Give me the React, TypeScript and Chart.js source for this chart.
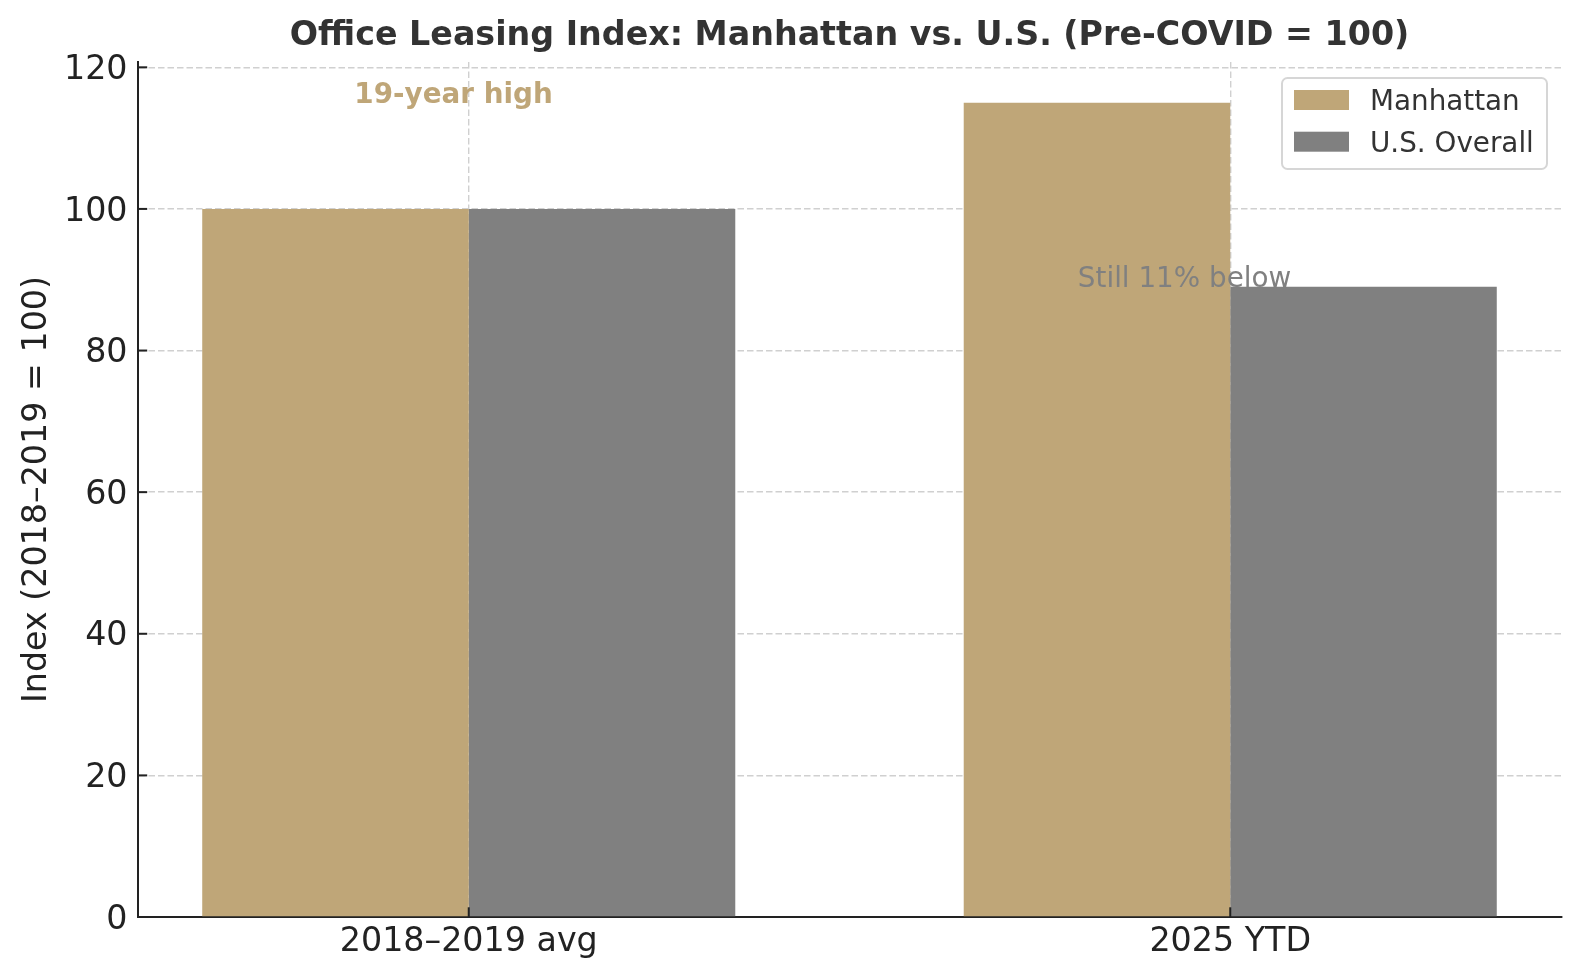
import React, { useEffect, useRef } from 'react';
import { Chart, registerables } from 'chart.js';

Chart.register(...registerables);

const categories = ['2018–2019 avg', '2025 YTD'];
const categoryPositions = [0, 1];
const manhattanValues = [100, 115];
const usOverallValues = [100, 89];
const seriesNames = ['Manhattan', 'U.S. Overall'];
const seriesColors = ['#bfa678', '#808080'];
const yTickValues = [0, 20, 40, 60, 80, 100, 120];
const chartTitle = 'Office Leasing Index: Manhattan vs. U.S. (Pre-COVID = 100)';
const yAxisTitle = 'Index (2018–2019 = 100)';
const annotationTexts = ['19-year high', 'Still 11% below'];
const annotationX = [-0.02, 0.94];
const annotationY = [115, 89];
const annotationColors = ['#bfa678', '#808080'];
const annotationBold = [true, false];

const FONT = '"DejaVu Sans", "Liberation Sans", sans-serif';

const decorPlugin = {
  id: 'decor',
  afterDraw(chart: any) {
    const { ctx, chartArea: a, scales } = chart;
    const xs = scales.x;
    const ys = scales.y;
    ctx.save();

    // inward tick marks
    ctx.strokeStyle = '#222222';
    ctx.lineWidth = 2;
    ctx.setLineDash([]);
    yTickValues.forEach((v) => {
      const py = ys.getPixelForValue(v);
      ctx.beginPath();
      ctx.moveTo(a.left, py);
      ctx.lineTo(a.left + 9.7, py);
      ctx.stroke();
    });
    categoryPositions.forEach((v) => {
      const px = xs.getPixelForValue(v);
      ctx.beginPath();
      ctx.moveTo(px, a.bottom);
      ctx.lineTo(px, a.bottom - 9.7);
      ctx.stroke();
    });

    // title
    ctx.fillStyle = '#333333';
    ctx.font = `bold 33.3px ${FONT}`;
    ctx.textAlign = 'center';
    ctx.textBaseline = 'alphabetic';
    ctx.fillText(chartTitle, (a.left + a.right) / 2, a.top - 16.7);

    // y axis title
    ctx.save();
    ctx.translate(46, (a.top + a.bottom) / 2);
    ctx.rotate(-Math.PI / 2);
    ctx.fillStyle = '#222222';
    ctx.font = `33.3px ${FONT}`;
    ctx.textAlign = 'center';
    ctx.textBaseline = 'alphabetic';
    ctx.fillText(yAxisTitle, 0, 0);
    ctx.restore();

    // annotations
    annotationTexts.forEach((t, i) => {
      ctx.fillStyle = annotationColors[i];
      ctx.font = `${annotationBold[i] ? 'bold ' : ''}27.8px ${FONT}`;
      ctx.textAlign = 'center';
      ctx.textBaseline = 'alphabetic';
      ctx.fillText(t, xs.getPixelForValue(annotationX[i]), ys.getPixelForValue(annotationY[i]));
    });

    // legend
    const bx = 1282;
    const by = 78;
    const bw = 265;
    const bh = 91;
    ctx.beginPath();
    (ctx as any).roundRect(bx, by, bw, bh, 5.5);
    ctx.fillStyle = 'rgba(255,255,255,0.8)';
    ctx.fill();
    ctx.strokeStyle = '#d6d6d6';
    ctx.lineWidth = 2;
    ctx.stroke();
    const rowBase = [110, 151.7];
    chart.data.datasets.forEach((ds: any, i: number) => {
      ctx.fillStyle = ds.backgroundColor;
      ctx.fillRect(1294, rowBase[i] - 20, 55, 20);
      ctx.fillStyle = '#333333';
      ctx.font = `27.8px ${FONT}`;
      ctx.textAlign = 'left';
      ctx.textBaseline = 'alphabetic';
      ctx.fillText(ds.label, 1370, rowBase[i]);
    });

    ctx.restore();
  },
};

export default function App() {
  const ref = useRef<HTMLCanvasElement>(null);

  useEffect(() => {
    document.body.style.margin = '0';
    const gridColor = '#d0d0d0';
    const chart = new Chart(ref.current as HTMLCanvasElement, {
      type: 'bar',
      data: {
        datasets: [
          {
            label: seriesNames[0],
            data: categoryPositions.map((x, i) => ({ x, y: manhattanValues[i] })),
            backgroundColor: seriesColors[0],
            borderWidth: 0,
            categoryPercentage: 0.7,
            barPercentage: 1.0,
          },
          {
            label: seriesNames[1],
            data: categoryPositions.map((x, i) => ({ x, y: usOverallValues[i] })),
            backgroundColor: seriesColors[1],
            borderWidth: 0,
            categoryPercentage: 0.7,
            barPercentage: 1.0,
          },
        ],
      } as any,
      options: {
        animation: false,
        responsive: false,
        maintainAspectRatio: false,
        layout: { padding: { left: 0, right: 18.5, top: 62, bottom: 0 } },
        plugins: {
          legend: { display: false },
          tooltip: { enabled: false },
          title: { display: false },
        },
        scales: {
          x: {
            type: 'linear',
            min: -0.435,
            max: 1.435,
            offset: false,
            afterBuildTicks: (scale: any) => {
              scale.ticks = categoryPositions.map((v) => ({ value: v }));
            },
            afterFit: (scale: any) => {
              scale.height = 63;
            },
            ticks: {
              autoSkip: false,
              maxRotation: 0,
              minRotation: 0,
              padding: 5,
              color: '#222222',
              font: { family: FONT, size: 33.3 },
              callback: (v: any) => {
                const idx = categoryPositions.indexOf(Number(v));
                return idx >= 0 ? categories[idx] : '';
              },
            },
            grid: {
              display: true,
              offset: false,
              drawTicks: false,
              color: gridColor,
              lineWidth: 1.4,
            },
            border: { display: true, color: '#222222', width: 2, dash: [6.5, 3] },
          },
          y: {
            type: 'linear',
            min: 0,
            max: 120.75,
            afterBuildTicks: (scale: any) => {
              scale.ticks = yTickValues.map((v) => ({ value: v }));
            },
            afterFit: (scale: any) => {
              scale.width = 137.5;
            },
            ticks: {
              padding: 10,
              labelOffset: 3,
              color: '#222222',
              font: { family: FONT, size: 33.3 },
              callback: (v: any) => String(v),
            },
            grid: {
              display: true,
              offset: false,
              drawTicks: false,
              color: gridColor,
              lineWidth: 1.4,
            },
            border: { display: true, color: '#222222', width: 2, dash: [6.5, 3] },
          },
        },
      } as any,
      plugins: [decorPlugin],
    });
    return () => chart.destroy();
  }, []);

  return (
    <div style={{ width: 1580, height: 980, background: '#ffffff' }}>
      <canvas ref={ref} width={1580} height={980} style={{ display: 'block', width: 1580, height: 980 }} />
    </div>
  );
}
